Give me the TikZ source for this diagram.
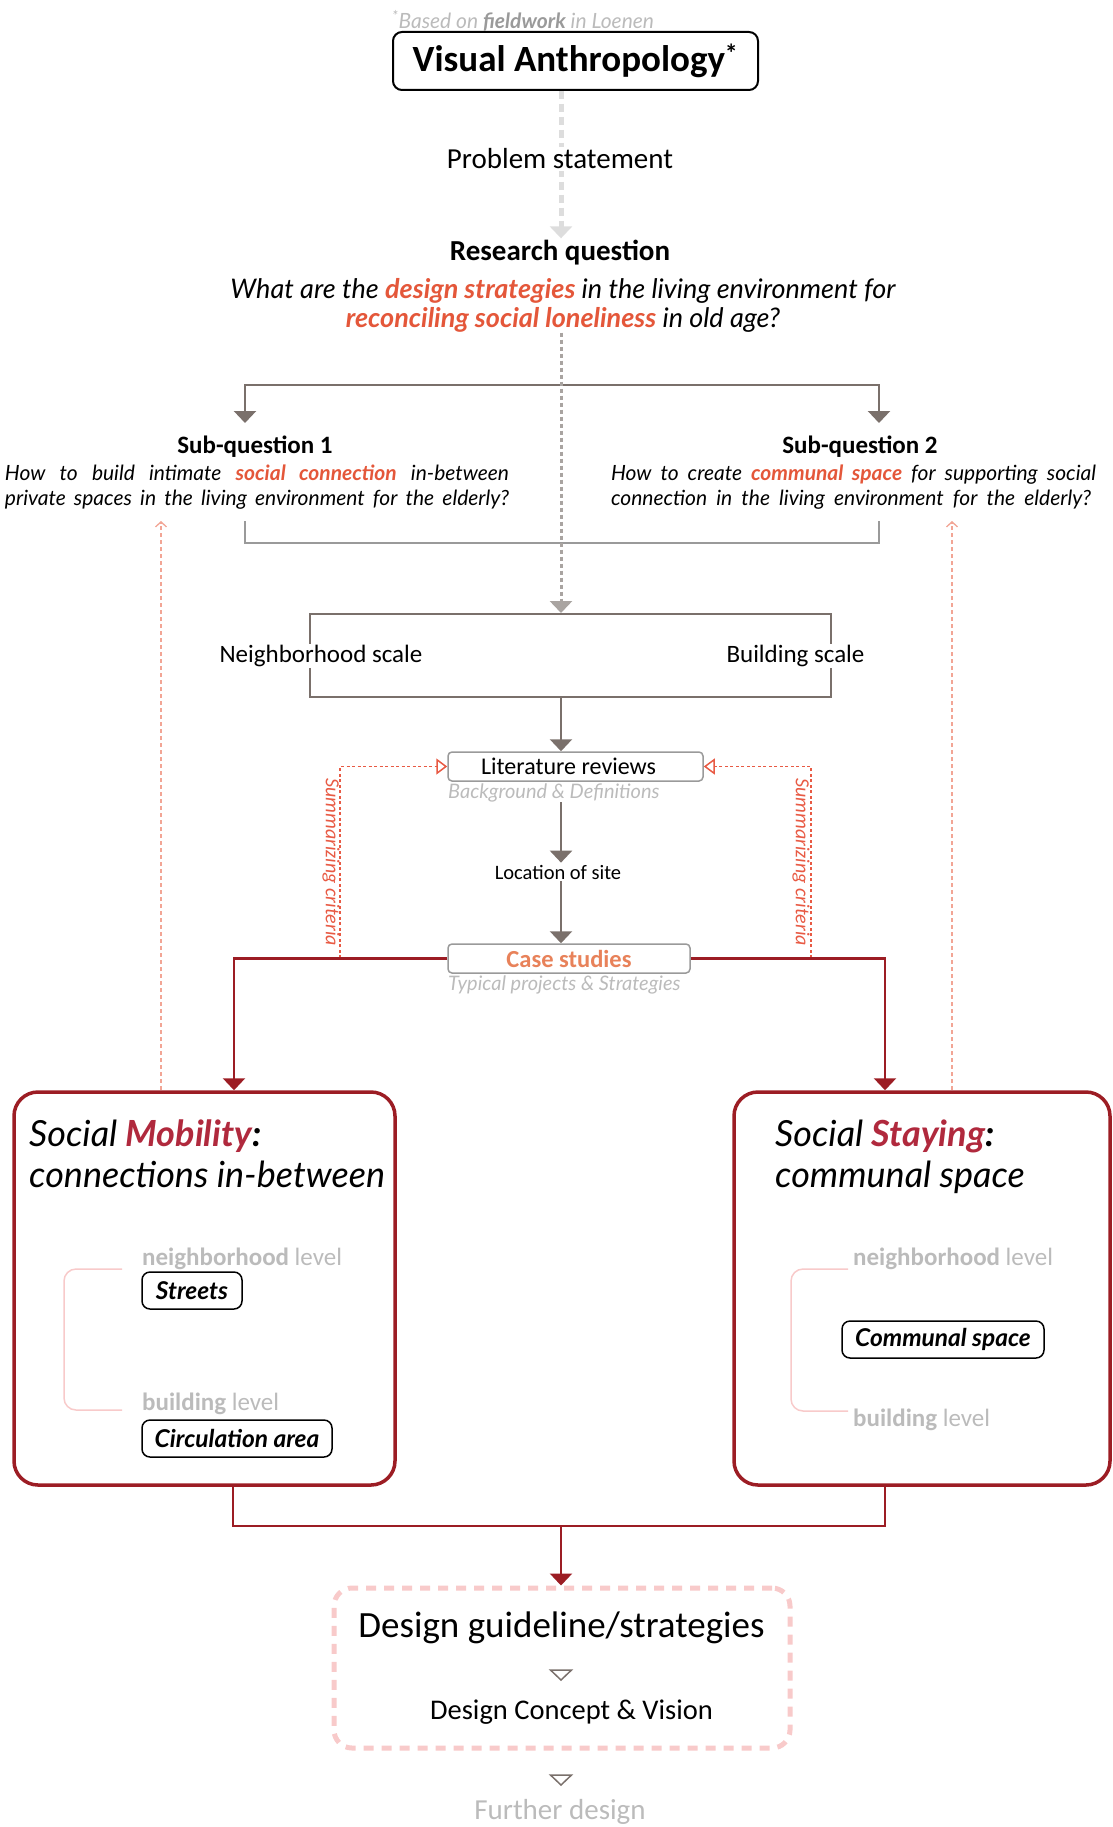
\documentclass[tikz,border=0pt]{standalone}
\usepackage{fontspec}
\setmainfont{Carlito}
\newfontfamily\avfont{Lato}
\usetikzlibrary{arrows.meta, positioning, calc, backgrounds}
\definecolor{arrowgrey}{HTML}{7A706B}
\definecolor{spinegrey}{HTML}{A9A4A1}
\definecolor{palegrey}{HTML}{DDDDDD}
\definecolor{boxgrey}{HTML}{9A9A9A}
\definecolor{textgrey}{HTML}{BBBBBB}
\definecolor{hotorange}{HTML}{E4573A}
\definecolor{caseorange}{HTML}{E8825A}
\definecolor{darkred}{HTML}{9C1D24}
\definecolor{crimson}{HTML}{B0293D}
\definecolor{dotred}{HTML}{E85A44}
\definecolor{softpink}{HTML}{F8CACA}
\definecolor{dotpink}{HTML}{F2A595}
\newcommand{\fsz}[2]{\fontsize{#1}{#2}\selectfont}
\tikzset{
    title box/.style={
        draw=black,
        line width=2pt,
        rounded corners=9pt,
        minimum width=365pt,
        minimum height=58pt,
        font=\bfseries\fsz{37}{42}
    },
    plain text/.style={inner sep=2pt, font=\fsz{29}{34}},
    head text/.style={inner sep=2pt, font=\bfseries\fsz{29}{34}},
    question text/.style={inner sep=0pt, align=center, font=\avfont\itshape\fsz{27}{29}},
    sub head/.style={inner sep=1pt, font=\bfseries\fsz{25}{28}},
    sub text/.style={inner sep=0pt, align=left, font=\avfont\itshape\fsz{21}{25}},
    note text/.style={inner sep=0pt, text=textgrey, font=\avfont\itshape\fsz{21}{24}},
    step box/.style={
        draw=boxgrey,
        line width=1.5pt,
        rounded corners=4pt,
        minimum height=29pt,
        inner sep=0pt
    },
    grey note/.style={inner sep=0pt, text=textgrey, font=\avfont\itshape\fsz{20}{23}},
    big box/.style={
        draw=darkred,
        line width=3.5pt,
        rounded corners=24pt,
        minimum height=393pt
    },
    theme text/.style={anchor=base west, inner sep=0pt, font=\avfont\itshape\fsz{36}{40}},
    level text/.style={inner sep=0pt, text=textgrey, font=\fsz{25}{28}},
    tag box/.style={
        draw=black,
        line width=1.5pt,
        rounded corners=8pt,
        minimum height=37pt,
        inner sep=0pt,
        font=\avfont\itshape\bfseries\fsz{24.5}{28}
    },
    grey arrow/.style={
        draw=arrowgrey,
        line width=2.5pt,
        -{Triangle[length=12pt, width=22pt]}
    },
    grey line/.style={draw=arrowgrey, line width=2pt},
    red line/.style={draw=darkred, line width=2.5pt},
    red arrow/.style={
        draw=darkred,
        line width=2.5pt,
        -{Triangle[length=12pt, width=22pt]}
    },
    red dots/.style={
        draw=dotred,
        line width=1.5pt,
        dash pattern=on 3pt off 2.5pt,
        -{Triangle[open, length=11pt, width=16pt, line width=1.5pt]}
    },
    pink dots/.style={
        draw=dotpink,
        line width=1.3pt,
        dash pattern=on 4pt off 3pt,
        -{Straight Barb[length=5pt, width=11pt, line width=1.3pt]}
    },
    pink bracket/.style={draw=softpink, line width=1.5pt, rounded corners=12pt},
    open tri/.style={draw=arrowgrey, line width=1.5pt, line join=miter}
}

\begin{document}
\begin{tikzpicture}[x=1pt, y=-1pt]
    \useasboundingbox (0,0) rectangle (1112,1827);
    \clip (0,0) rectangle (1112,1827);

    % Head of the study
    \node[note text, anchor=west] (note) at (392,21) {\textsuperscript{*}Based on \textbf{\color{boxgrey}fieldwork} in Loenen};
    \node[title box] (va) at (575.5,61) {Visual Anthropology\textsuperscript{*}};
    \coordinate (spine) at (561,0);

    \node[plain text, fill=white] (ps) at (560,159) {Problem statement};
    \node[head text] (rq) at (560,253) {Research question};
    \node[question text] (rqtext) at (563,305.5) {What are the \textbf{\color{hotorange}design strategies} in the living environment for\\
        \textbf{\color{hotorange}reconciling social loneliness} in old age?};

    \begin{scope}[on background layer]
        \draw[palegrey, line width=5pt, dash pattern=on 8pt off 5pt, -{Triangle[length=12pt, width=22pt]}] (va.south -| spine) -- (rq.north -| spine);
    \end{scope}

    % Sub-questions
    \node[sub head] (sq1) at (255,447) {Sub-question 1};
    \node[sub text] (sq1text) at (257,487.5) {\makebox[504pt][s]{How to build intimate \textbf{\color{hotorange}social connection} in-between}\\
        \makebox[504pt][s]{private spaces in the living environment for the elderly?}};
    \node[sub head] (sq2) at (860,447) {Sub-question 2};
    \node[sub text] (sq2text) at (853.5,487.5) {\makebox[485pt][s]{How to create \textbf{\color{hotorange}communal space} for supporting social}\\
        \makebox[480pt][s]{connection in the living environment for the elderly?}};

    \coordinate (fork l) at (245,423);
    \coordinate (fork r) at (879,423);
    \draw[grey arrow, {Triangle[length=12pt, width=22pt]}-{Triangle[length=12pt, width=22pt]}] (fork l) -- ++(0,-38) -| (fork r);
    \draw[grey line, draw=boxgrey] (245,521) -- (245,543) -- (879,543) -- (879,521);

    % Scales
    \node[draw=arrowgrey, line width=2pt, minimum width=521pt, minimum height=83pt] (scales) at (570.5,655.5) {};
    \node[plain text, fill=white, inner sep=1pt, font=\fsz{25}{28}] (nbh) at (321,656) {Neighborhood scale};
    \node[plain text, fill=white, inner sep=1pt, font=\fsz{25}{28}] (bld) at (795.5,656) {Building scale};
    \draw[spinegrey, line width=3pt, dash pattern=on 4pt off 3pt, -{Triangle[length=12pt, width=22pt]}] (rqtext.south -| spine) -- (scales.north -| spine);

    % Research steps
    \node[step box, minimum width=255pt, font=\fsz{24}{28}] (lit) at (575.5,766.5) {Literature reviews\hspace*{14pt}};
    \node[grey note, anchor=west] (bgd) at (448,793) {Background \& Definitions};
    \node[plain text, font=\fsz{20.5}{24}] (loc) at (558,872) {Location of site};
    \node[step box, minimum width=242pt, text=caseorange, font=\bfseries\fsz{24.5}{28}] (case) at (569,958.5) {Case studies};
    \node[grey note, anchor=west] (typ) at (448,985) {Typical projects \& Strategies};

    \draw[grey arrow] (scales.south -| spine) -- (lit.north -| spine);
    \draw[grey arrow] (bgd.south -| spine) -- (loc.north -| spine);
    \draw[grey arrow] (loc.south -| spine) -- (case.north -| spine);

    % Summarizing criteria loops
    \coordinate (crit l) at (340,958);
    \coordinate (crit r) at (811,958);
    \draw[red dots] (crit l) |- (lit.west);
    \draw[red dots] (crit r) |- (lit.east);
    \node[rotate=-90, text=dotred, font=\itshape\fsz{20}{24}] (sum l) at (331,862) {Summarizing criteria};
    \node[rotate=-90, text=dotred, font=\itshape\fsz{20}{24}] (sum r) at (801,862) {Summarizing criteria};

    % Two themes
    \node[big box, minimum width=381pt] (mob) at (204.5,1288.5) {};
    \node[big box, minimum width=376pt] (stay) at (922,1288.5) {};
    \draw[red arrow] (case.west) -| ([xshift=29.5pt]mob.north);
    \draw[red arrow] (case.east) -| ([xshift=-37pt]stay.north);

    \draw[pink dots] (161,1090) -- (161,521);
    \draw[pink dots] (952,1090) -- (952,521);

    \node[theme text] (mob title) at (29,1146) {Social \textbf{\color{crimson}Mobility}\textbf{:}};
    \node[theme text] (mob sub) at (29,1187) {connections in-between};
    \node[theme text] (stay title) at (775,1146) {Social \textbf{\color{crimson}Staying}\textbf{:}};
    \node[theme text] (stay sub) at (775,1187) {communal space};

    \draw[pink bracket] (122,1269) -- (64,1269) -- (64,1410) -- (122,1410);
    \node[level text, anchor=west] (mob nbh) at (142,1259) {\textbf{neighborhood} level};
    \node[tag box, minimum width=100pt] (streets) at (192,1290.5) {Streets};
    \node[level text, anchor=west] (mob bld) at (142,1404) {\textbf{building} level};
    \node[tag box, minimum width=190pt] (circ) at (237,1438.5) {Circulation area};

    \draw[pink bracket] (848,1269) -- (791,1269) -- (791,1411) -- (848,1411);
    \node[level text, anchor=west] (stay nbh) at (853,1259) {\textbf{neighborhood} level};
    \node[tag box, minimum width=202pt] (comm) at (943,1339.5) {Communal space};
    \node[level text, anchor=west] (stay bld) at (853,1420) {\textbf{building} level};

    % Towards design
    \coordinate (merge) at (561,1526);
    \node[draw=softpink, line width=5pt, dash pattern=on 10pt off 8pt, rounded corners=18pt, minimum width=456pt, minimum height=160pt] (guide) at (562,1668) {};
    \draw[red line] ([xshift=28.5pt]mob.south) |- (merge) -| ([xshift=-37pt]stay.south);
    \draw[red arrow] (merge) -- (guide.north -| merge);

    \node[plain text, font=\fsz{37}{42}] (strat) at (561.5,1628) {Design guideline/strategies};
    \draw[open tri] (550.5,1670) -- (571.5,1670) -- (561,1680) -- cycle;
    \node[plain text, font=\fsz{28.5}{32}] (concept) at (571.5,1712) {Design Concept \& Vision};
    \draw[open tri] (550.5,1775) -- (571.5,1775) -- (561,1785) -- cycle;
    \node[plain text, text=textgrey, font=\fsz{29}{32}] (further) at (560,1812) {Further design};
\end{tikzpicture}
\end{document}
